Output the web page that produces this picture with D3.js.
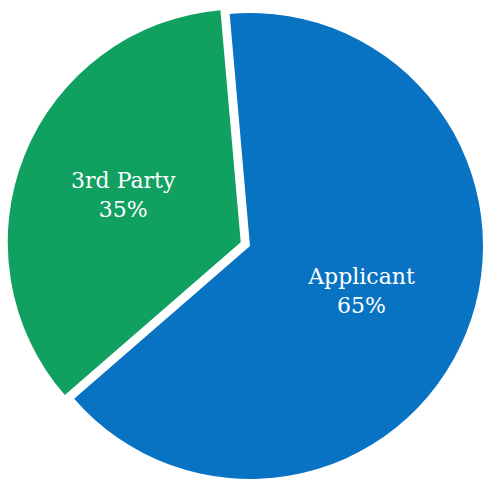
<!DOCTYPE html>
<html>
<head>
<meta charset="utf-8">
<script src="https://cdn.jsdelivr.net/npm/d3@7"></script>
<style>
  html, body { margin: 0; padding: 0; background: #fff; }
  svg { display: block; }
</style>
</head>
<body>
<svg id="chart" width="484" height="480"></svg>
<script>
// Share of submissions by source
const categories = ["Applicant", "3rd Party"];
const shares = [65, 35];
const percentLabels = ["65%", "35%"];
const colors = ["#0872C3", "#10A060"];
const exploded = [false, true];

const width = 484, height = 480;
const cx = 250, cy = 246, radius = 233;
const startAngle = -5 * Math.PI / 180;
const explodeDistance = 10;

const svg = d3.select("#chart");
const g = svg.append("g").attr("transform", `translate(${cx},${cy})`);

const pie = d3.pie()
  .sort(null)
  .value(d => d.value)
  .startAngle(startAngle)
  .endAngle(startAngle + 2 * Math.PI);

const data = categories.map((c, i) => ({
  name: c, value: shares[i], label: percentLabels[i],
  color: colors[i], exploded: exploded[i]
}));

const arcs = pie(data);
const arc = d3.arc().innerRadius(0).outerRadius(radius);
const labelArc = d3.arc().innerRadius(radius * 0.53).outerRadius(radius * 0.53);

function shift(d) {
  if (!d.data.exploded) return [0, 0];
  const mid = (d.startAngle + d.endAngle) / 2;
  return [Math.sin(mid) * explodeDistance, -Math.cos(mid) * explodeDistance];
}

const slices = g.selectAll("g.slice")
  .data(arcs)
  .join("g")
  .attr("class", "slice")
  .attr("transform", d => `translate(${shift(d)})`);

slices.append("path")
  .attr("d", arc)
  .attr("fill", d => d.data.color);

const labels = slices.append("text")
  .attr("transform", d => {
    const [x, y] = labelArc.centroid(d);
    return `translate(${x - 3},${y - 2})`;
  })
  .attr("text-anchor", "middle")
  .attr("fill", "#fff")
  .style("font-family", "'DejaVu Serif', serif")
  .style("font-size", "22px");

labels.append("tspan")
  .attr("x", 0)
  .attr("y", -6)
  .text(d => d.data.name);

labels.append("tspan")
  .attr("x", 0)
  .attr("y", 23)
  .text(d => d.data.label);
</script>
</body>
</html>
